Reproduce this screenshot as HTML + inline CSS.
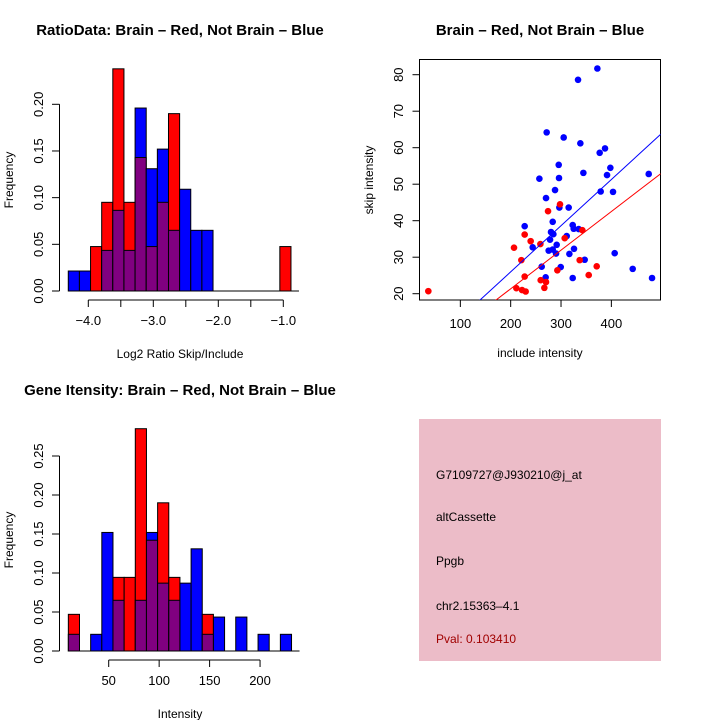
<!DOCTYPE html>
<html><head><meta charset="utf-8"><style>
body{margin:0;background:#fff}
svg text{font-family:"Liberation Sans",sans-serif;fill:#000}
</style></head><body>
<svg id="root" width="720" height="720" viewBox="0 0 720 720" xmlns="http://www.w3.org/2000/svg">
<rect width="720" height="720" fill="#fff"/>
<g id="h1"></g>
<g id="sc"></g>
<g id="h2"></g>
<g>
<rect x="419" y="419" width="242" height="242" fill="#ecbcc8"/>
<text x="436" y="479" font-size="12">G7109727@J930210@j_at</text>
<text x="436" y="521" font-size="12">altCassette</text>
<text x="436" y="565" font-size="12">Ppgb</text>
<text x="436" y="610" font-size="12">chr2.15363–4.1</text>
<text x="436" y="643" font-size="12" style="fill:#a00000">Pval: 0.103410</text>
</g>
</svg>
<script>
// ---- Histogram 1 data (Log2 ratio) ----
const h1Blue = [0.0214,0.0214,0,0.0435,0.0864,0.0435,0.196,0.131,0.152,0.065,0.109,0.065,0.065,0,0,0,0,0,0,0];
const h1Red  = [0,0,0.0476,0.095,0.238,0.095,0.143,0.0476,0.095,0.19,0,0,0,0,0,0,0,0,0,0.0476];
const h1Start = -4.308, h1Width = 0.1713;
const h1XTicks = [-4,-3.5,-3,-2.5,-2,-1.5,-1];
const h1XLabels = ["−4.0","","−3.0","","−2.0","","−1.0"];
const h1YTicks = [0,0.05,0.10,0.15,0.20];
const h1YLabels = ["0.00","0.05","0.10","0.15","0.20"];
// ---- Histogram 2 data (intensity) ----
const h2Blue = [0.0214,0,0.0214,0.152,0.065,0,0.065,0.152,0.087,0.065,0.087,0.131,0.0214,0.0435,0,0.0435,0,0.0214,0,0.0214];
const h2Red  = [0.047,0,0,0,0.0944,0.0944,0.285,0.142,0.19,0.0944,0,0,0.047,0,0,0,0,0,0,0];
const h2Start = 10, h2Width = 11.06;
const h2XTicks = [50,100,150,200];
const h2XLabels = ["50","100","150","200"];
const h2YTicks = [0,0.05,0.10,0.15,0.20,0.25];
const h2YLabels = ["0.00","0.05","0.10","0.15","0.20","0.25"];
// ---- Scatter data ----
const blueX = [372.2,333.8,271.5,305.3,338.4,387.4,376.8,295.4,398.0,391.4,344.4,474.2,257.0,296.0,288.1,378.8,403.3,270.2,296.7,315.2,283.5,227.8,323.2,325.2,335.1,280.1,284.8,278.2,291.4,311.3,243.7,283.5,275.5,290.1,316.6,325.8,406.6,261.6,299.4,347.0,442.4,269.5,323.2,480.8];
const blueY = [81.7,78.6,64.2,62.8,61.2,59.8,58.6,55.3,54.5,52.5,53.1,52.8,51.5,51.7,48.4,48.0,47.9,46.2,43.6,43.6,39.7,38.5,38.8,37.8,37.7,36.9,36.3,34.8,33.4,35.8,32.7,32.1,31.8,31.0,30.9,32.3,31.1,27.4,27.3,29.3,26.8,24.5,24.3,24.3];
const redX = [36.4,206.6,221.2,227.8,239.7,259.0,274.2,298.0,307.3,342.4,337.1,370.9,355.0,292.7,227.8,259.6,270.2,266.9,211.3,222.6,229.8];
const redY = [20.7,32.6,29.2,36.2,34.4,33.6,42.6,44.5,35.2,37.4,29.2,27.5,25.1,26.4,24.7,23.7,23.2,21.6,21.5,21.0,20.6];
const blueFit = [0.68,0.1265];
const redFit = [0.19,0.1058];
const scXTicks = [100,200,300,400];
const scYTicks = [20,30,40,50,60,70,80];

const NS="http://www.w3.org/2000/svg";
function mk(parent,tag,attrs,txt){const e=document.createElementNS(NS,tag);for(const k in attrs)e.setAttribute(k,attrs[k]);if(txt!==undefined)e.textContent=txt;parent.appendChild(e);return e;}

function hist(g,cfg){
  const sx=v=>cfg.x0+(v-cfg.d0)*cfg.kx, sy=v=>cfg.y0-v*cfg.ky;
  for(let i=0;i<cfg.blue.length;i++){
    const b=cfg.blue[i], r=cfg.red[i];
    const xa=sx(cfg.start+i*cfg.width), xb=sx(cfg.start+(i+1)*cfg.width);
    const hi=Math.max(b,r), lo=Math.min(b,r);
    if(hi<=0) continue;
    const top=mk(g,'rect',{x:xa,y:sy(hi),width:xb-xa,height:sy(0)-sy(hi),fill:b>=r?'#0000ff':'#ff0000',stroke:'#000','stroke-width':1});
    
    
    if(lo>0){
      const p=mk(g,'rect',{x:xa,y:sy(lo),width:xb-xa,height:sy(0)-sy(lo),fill:'#800080',stroke:'#000','stroke-width':1});
      
      
    }
  }
  const base=mk(g,'line',{x1:sx(cfg.start),x2:sx(cfg.start+cfg.blue.length*cfg.width)+8,y1:cfg.y0,y2:cfg.y0,stroke:'#000','stroke-width':1});
  
  
  const ax=mk(g,'g',{});
  
  
  mk(ax,'line',{x1:sx(cfg.xt[0]),x2:sx(cfg.xt[cfg.xt.length-1]),y1:cfg.axY,y2:cfg.axY,stroke:'#000'});
  cfg.xt.forEach((t,i)=>{mk(ax,'line',{x1:sx(t),x2:sx(t),y1:cfg.axY,y2:cfg.axY+7,stroke:'#000'});
    if(cfg.xl[i]) mk(ax,'text',{x:sx(t),y:cfg.axY+25,'font-size':13,'text-anchor':'middle'},cfg.xl[i]);});
  const ay=mk(g,'g',{});
  
  
  mk(ay,'line',{x1:59.5,x2:59.5,y1:sy(cfg.yt[0]),y2:sy(cfg.yt[cfg.yt.length-1]),stroke:'#000'});
  cfg.yt.forEach((t,i)=>{mk(ay,'line',{x1:52,x2:59.5,y1:sy(t),y2:sy(t),stroke:'#000'});
    mk(ay,'text',{x:0,y:0,'font-size':13,'text-anchor':'middle',transform:`translate(43,${sy(t)}) rotate(-90)`},cfg.yl[i]);});
  const xt=mk(g,'text',{x:cfg.xtitleX,y:cfg.axY+58,'font-size':12,'text-anchor':'middle'},cfg.xtitle);
  
  
  const yt=mk(g,'text',{x:0,y:0,'font-size':12,'text-anchor':'middle',transform:`translate(13,${cfg.ytitleY}) rotate(-90)`},'Frequency');
  
  
  const tt=mk(g,'text',{x:180,y:cfg.titleY,'font-size':15,'font-weight':'bold','text-anchor':'middle'},cfg.title);
  
  
}
hist(document.getElementById('h1'),{blue:h1Blue,red:h1Red,start:h1Start,width:h1Width,x0:88.3,d0:-4,kx:65,y0:291,ky:933.5,axY:300,
  xt:h1XTicks,xl:h1XLabels,yt:h1YTicks,yl:h1YLabels,xtitle:'Log2 Ratio Skip/Include',xtitleX:180,ytitleY:180,titleY:35,title:'RatioData: Brain – Red, Not Brain – Blue'});
hist(document.getElementById('h2'),{blue:h2Blue,red:h2Red,start:h2Start,width:h2Width,x0:108.7,d0:50,kx:1.009,y0:651,ky:780,axY:660,
  xt:h2XTicks,xl:h2XLabels,yt:h2YTicks,yl:h2YLabels,xtitle:'Intensity',xtitleX:180,ytitleY:540,titleY:395,title:'Gene Itensity: Brain – Red, Not Brain – Blue'});

(function(){
  const g=document.getElementById('sc');
  const L=419.5,R=660.5,T=59.5,B=300;
  const sx=v=>410+v*0.5034, sy=v=>293.7-(v-20)*3.65;
  const box=mk(g,'rect',{x:L,y:T,width:R-L,height:B-T,fill:'none',stroke:'#000'});
  
  
  const clip=mk(g,'clipPath',{id:'scclip'});mk(clip,'rect',{x:L,y:T,width:R-L,height:B-T});
  const ax=mk(g,'g',{});
  
  
  scXTicks.forEach(t=>{mk(ax,'line',{x1:sx(t),x2:sx(t),y1:B,y2:B+7,stroke:'#000'});mk(ax,'text',{x:sx(t),y:B+28,'font-size':13,'text-anchor':'middle'},String(t));});
  const ay=mk(g,'g',{});
  
  
  scYTicks.forEach(t=>{mk(ay,'line',{x1:L-7,x2:L,y1:sy(t),y2:sy(t),stroke:'#000'});mk(ay,'text',{x:0,y:0,'font-size':13,'text-anchor':'middle',transform:`translate(403,${sy(t)}) rotate(-90)`},String(t));});
  const pts=mk(g,'g',{'clip-path':'url(#scclip)'});
  blueX.forEach((x,i)=>{const c=mk(pts,'circle',{cx:sx(x),cy:sy(blueY[i]),r:3.3,fill:'#0000ff'});
    
    });
  redX.forEach((x,i)=>{const c=mk(pts,'circle',{cx:sx(x),cy:sy(redY[i]),r:3.3,fill:'#ff0000'});
    
    });
  [[blueFit,'#0000ff','blue-fit-line'],[redFit,'#ff0000','red-fit-line']].forEach(([f,col,nm])=>{
    const x1=0,x2=600;
    const l=mk(pts,'line',{x1:sx(x1),y1:sy(f[0]+f[1]*x1),x2:sx(x2),y2:sy(f[0]+f[1]*x2),stroke:col,'stroke-width':1});
    
    });
  const xt=mk(g,'text',{x:540,y:357,'font-size':12,'text-anchor':'middle'},'include intensity');
  
  
  const yt=mk(g,'text',{x:0,y:0,'font-size':12,'text-anchor':'middle',transform:'translate(373,180) rotate(-90)'},'skip intensity');
  
  
  const tt=mk(g,'text',{x:540,y:35,'font-size':15,'font-weight':'bold','text-anchor':'middle'},'Brain – Red, Not Brain – Blue');
  
  
})();
</script>
</body></html>
